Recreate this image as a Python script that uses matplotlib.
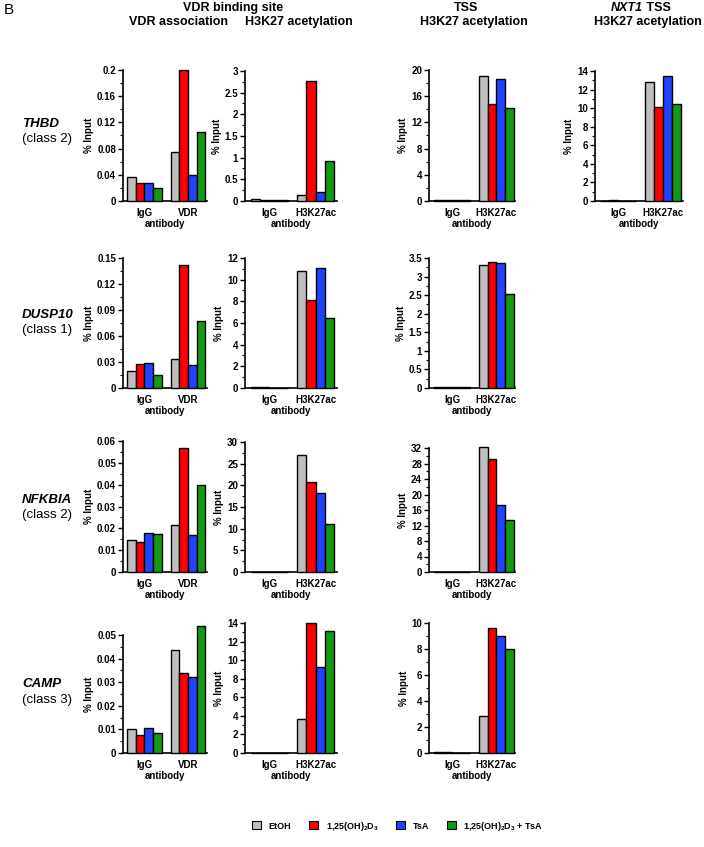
import matplotlib
matplotlib.use('Agg')
import matplotlib.pyplot as plt
from matplotlib.patches import Patch
from matplotlib.ticker import MultipleLocator, AutoMinorLocator, FuncFormatter

plt.rcParams['font.family'] = ['Liberation Sans', 'DejaVu Sans']
plt.rcParams['mathtext.fontset'] = 'custom'
plt.rcParams['mathtext.rm'] = 'Liberation Sans:bold'
plt.rcParams['mathtext.bf'] = 'Liberation Sans:bold'
plt.rcParams['mathtext.default'] = 'regular'

# ---------------- data ----------------
series = ['EtOH', '1,25(OH)$_2$D$_3$', 'TsA', '1,25(OH)$_2$D$_3$ + TsA']
colors = ['#bfbfbf', '#ff0000', '#2142ff', '#139a13']

genes = ['THBD', 'DUSP10', 'NFKBIA', 'CAMP']
classes = ['(class 2)', '(class 1)', '(class 2)', '(class 3)']

# VDR association at VDR binding site (IgG, VDR)
thbd_vdr_igg = [0.036, 0.028, 0.028, 0.020]
thbd_vdr_ab = [0.075, 0.200, 0.039, 0.106]
dusp10_vdr_igg = [0.020, 0.0276, 0.0283, 0.0153]
dusp10_vdr_ab = [0.033, 0.142, 0.027, 0.077]
nfkbia_vdr_igg = [0.0146, 0.0139, 0.0180, 0.0175]
nfkbia_vdr_ab = [0.0215, 0.0566, 0.0169, 0.0400]
camp_vdr_igg = [0.0101, 0.0076, 0.0104, 0.0084]
camp_vdr_ab = [0.0438, 0.0340, 0.0323, 0.0537]

# H3K27 acetylation at VDR binding site (IgG, H3K27ac)
thbd_ac_igg = [0.04, 0.03, 0.03, 0.03]
thbd_ac_ab = [0.13, 2.78, 0.215, 0.915]
dusp10_ac_igg = [0.05, 0.05, 0.03, 0.03]
dusp10_ac_ab = [10.77, 8.11, 11.08, 6.49]
nfkbia_ac_igg = [0.1, 0.1, 0.1, 0.1]
nfkbia_ac_ab = [27.0, 20.8, 18.2, 11.1]
camp_ac_igg = [0.03, 0.03, 0.03, 0.03]
camp_ac_ab = [3.7, 14.0, 9.22, 13.13]

# H3K27 acetylation at TSS
thbd_tss_igg = [0.08, 0.08, 0.08, 0.08]
thbd_tss_ab = [19.08, 14.85, 18.6, 14.2]
dusp10_tss_igg = [0.02, 0.02, 0.02, 0.02]
dusp10_tss_ab = [3.30, 3.40, 3.375, 2.52]
nfkbia_tss_igg = [0.1, 0.1, 0.1, 0.1]
nfkbia_tss_ab = [32.2, 29.2, 17.3, 13.4]
camp_tss_igg = [0.05, 0.05, 0.03, 0.03]
camp_tss_ab = [2.88, 9.65, 9.02, 8.0]

# H3K27 acetylation at NXT1 TSS (THBD row only)
nxt1_tss_igg = [0.05, 0.08, 0.05, 0.05]
nxt1_tss_ab = [12.8, 10.15, 13.47, 10.47]

# ---------------- layout ----------------
W, H = 704, 847
fig = plt.figure(figsize=(W / 100, H / 100), dpi=100)

col_x = [(123, 207), (245, 337), (429, 515), (595, 683)]
col_xlim = [(-0.494, 1.437), (-0.52, 1.46), (-0.52, 1.42), (-0.52, 1.44)]
row_bottom = [201, 388, 572, 753]

# (row, col, igg values, antibody values, antibody label, ymax, step, top pixel)
panels = [
    (0, 0, thbd_vdr_igg, thbd_vdr_ab, 'VDR', 0.2, 0.04, 70),
    (0, 1, thbd_ac_igg, thbd_ac_ab, 'H3K27ac', 3, 0.5, 71),
    (0, 2, thbd_tss_igg, thbd_tss_ab, 'H3K27ac', 20, 4, 70),
    (0, 3, nxt1_tss_igg, nxt1_tss_ab, 'H3K27ac', 14, 2, 71),
    (1, 0, dusp10_vdr_igg, dusp10_vdr_ab, 'VDR', 0.15, 0.03, 258),
    (1, 1, dusp10_ac_igg, dusp10_ac_ab, 'H3K27ac', 12, 2, 258),
    (1, 2, dusp10_tss_igg, dusp10_tss_ab, 'H3K27ac', 3.5, 0.5, 258),
    (2, 0, nfkbia_vdr_igg, nfkbia_vdr_ab, 'VDR', 0.06, 0.01, 441),
    (2, 1, nfkbia_ac_igg, nfkbia_ac_ab, 'H3K27ac', 30, 5, 442),
    (2, 2, nfkbia_tss_igg, nfkbia_tss_ab, 'H3K27ac', 32, 4, 448),
    (3, 0, camp_vdr_igg, camp_vdr_ab, 'VDR', 0.05, 0.01, 635),
    (3, 1, camp_ac_igg, camp_ac_ab, 'H3K27ac', 14, 2, 623),
    (3, 2, camp_tss_igg, camp_tss_ab, 'H3K27ac', 10, 2, 623),
]

fmt = FuncFormatter(lambda v, p: '%g' % round(v, 6))
bw = 0.2
for r, c, igg, ab, ablab, ymax, step, top in panels:
    x0, x1 = col_x[c]
    bot = row_bottom[r]
    ax = fig.add_axes([x0 / W, 1 - bot / H, (x1 - x0) / W, (bot - top) / H])
    for gi, vals in enumerate([igg, ab]):
        for i, v in enumerate(vals):
            ax.bar(gi + (i - 1.5) * bw, v, width=bw, color=colors[i],
                   edgecolor='black', linewidth=1.0, clip_on=False, zorder=3)
    ax.set_xlim(*col_xlim[c])
    ax.set_ylim(0, ymax)
    ax.yaxis.set_major_locator(MultipleLocator(step))
    ax.yaxis.set_minor_locator(AutoMinorLocator(2))
    ax.yaxis.set_major_formatter(fmt)
    for s in ['top', 'right']:
        ax.spines[s].set_visible(False)
    for s in ['left', 'bottom']:
        ax.spines[s].set_linewidth(1.2)
    ax.tick_params(axis='y', which='major', length=3.5, width=1.0, pad=1.5,
                   labelsize=7)
    ax.tick_params(axis='y', which='minor', length=2, width=0.8)
    ax.tick_params(axis='x', length=0, pad=5, labelsize=7)
    ax.set_xticks([0, 1])
    ax.set_xticklabels(['IgG', ablab], fontweight='bold')
    for t in ax.get_yticklabels():
        t.set_fontweight('bold')
    ax.set_xlabel('antibody', fontsize=7, fontweight='bold', labelpad=1)
    ax.set_ylabel('% Input', fontsize=7, fontweight='bold', labelpad=2)

# row labels
row_label_y = [(124, 139), (315, 330), (500, 515), (684, 700)]
for g, cl, (y1, y2) in zip(genes, classes, row_label_y):
    fig.text(22 / W, 1 - y1 / H, g, fontsize=9.5, fontweight='bold',
             style='italic', va='center', ha='left')
    fig.text(22 / W, 1 - y2 / H, cl, fontsize=9.5, va='center', ha='left')

# headers
fig.text(4 / W, 1 - 10 / H, 'B', fontsize=11, va='center', ha='left')
hk = dict(fontsize=9, fontweight='bold', va='center')
fig.text(233 / W, 1 - 8 / H, 'VDR binding site', ha='center', **hk)
fig.text(178 / W, 1 - 22 / H, 'VDR association', ha='center', **hk)
fig.text(299 / W, 1 - 22 / H, 'H3K27 acetylation', ha='center', **hk)
fig.text(466 / W, 1 - 8 / H, 'TSS', ha='center', **hk)
fig.text(474 / W, 1 - 22 / H, 'H3K27 acetylation', ha='center', **hk)
fig.text(643 / W, 1 - 8 / H, 'NXT1', ha='right', style='italic', **hk)
fig.text(643 / W, 1 - 8 / H, ' TSS', ha='left', **hk)
fig.text(648 / W, 1 - 22 / H, 'H3K27 acetylation', ha='center', **hk)

# legend
handles = [Patch(facecolor=col, edgecolor='black', linewidth=0.8) for col in colors]
leg = fig.legend(handles, series, ncol=4, loc='center',
                 bbox_to_anchor=(398 / W, 1 - 826 / H), frameon=False,
                 prop={'size': 6.5, 'weight': 'bold'}, handlelength=1.0,
                 handleheight=1.0, columnspacing=2.0, handletextpad=0.8)

fig.savefig('out.png', dpi=100)
